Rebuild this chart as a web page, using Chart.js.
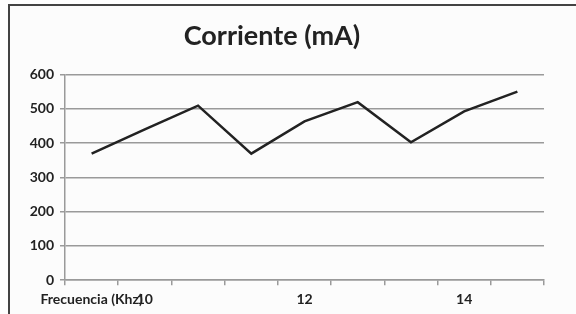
<!DOCTYPE html>
<html>
<head>
<meta charset="utf-8">
<script src="https://cdn.jsdelivr.net/npm/chart.js@4.4.1/dist/chart.umd.min.js"></script>
<style>
  html, body { margin: 0; padding: 0; background: #fff; }
  #marco { position: absolute; left: 8px; top: 4px; width: 566px; height: 312px;
           border-top: 2px solid #444; border-left: 2px solid #444; background: #fcfcfc; }
  #wrap { position: absolute; left: 0; top: 0; width: 576px; height: 314px; }
</style>
</head>
<body>
<div id="marco"></div>
<div id="wrap"><canvas id="grafico" width="576" height="314"></canvas></div>
<script>
// datos
const titulo = 'Corriente (mA)'
const frecuencias = ['Frecuencia (Khz)', '10', '', '', '12', '', '', '14', '']
const corriente = [369, 440, 509, 369, 463, 519, 402, 492, 550]
const ticksY = [0, 100, 200, 300, 400, 500, 600]

const fuente = 'Lato, "DejaVu Sans", sans-serif'

new Chart(document.getElementById('grafico'), {
    type: 'line',
    data: {
        labels: frecuencias,
        datasets: [
            {
                label: titulo,
                data: corriente,
                borderColor: '#222',
                borderWidth: 2.5,
                pointRadius: 0,
                tension: 0
            }
        ]
    },
    options: {
        responsive: false,
        animation: false,
        layout: {
            padding: {left: 0, right: 32, top: 20, bottom: 0}
        },
        scales: {
            y: {
                min: 0,
                max: 600,
                afterBuildTicks: (scale) => { scale.ticks = ticksY.map(v => ({value: v})) },
                afterFit: (scale) => { scale.width = 65 },
                ticks: {
                    color: '#222',
                    font: {family: fuente, size: 14, weight: 'bold'},
                    padding: 6
                },
                grid: {
                    color: '#9a9a9a',
                    lineWidth: 1.5,
                    tickLength: 5
                },
                border: {color: '#9a9a9a', width: 1.5}
            },
            x: {
                offset: true,
                ticks: {
                    autoSkip: false,
                    maxRotation: 0,
                    minRotation: 0,
                    color: '#222',
                    font: {family: fuente, size: 14, weight: 'bold'},
                    padding: 6
                },
                grid: {
                    offset: true,
                    drawOnChartArea: false,
                    color: '#9a9a9a',
                    lineWidth: 1.5,
                    tickLength: 5
                },
                border: {color: '#9a9a9a', width: 1.5}
            }
        },
        plugins: {
            legend: {display: false},
            tooltip: {enabled: false},
            title: {
                display: true,
                text: titulo,
                color: '#222',
                font: {family: fuente, size: 27, weight: 'bold'},
                padding: {top: 0, bottom: 22}
            }
        }
    }
})
</script>
</body>
</html>
